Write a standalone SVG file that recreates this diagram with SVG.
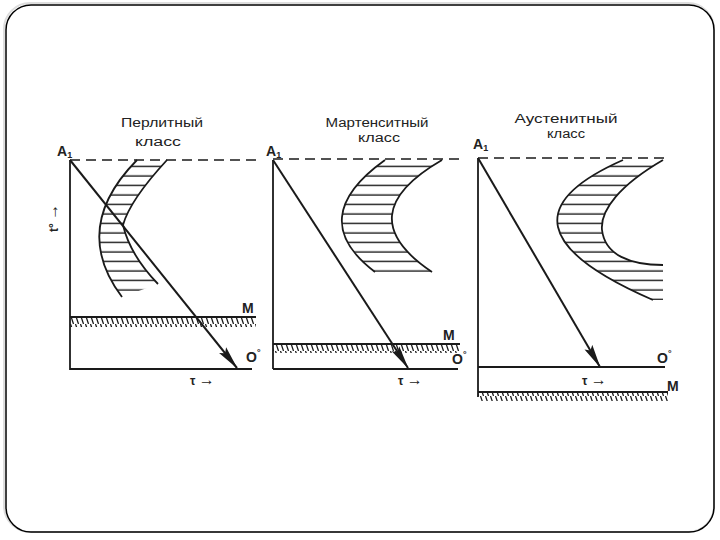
<svg xmlns="http://www.w3.org/2000/svg" width="720" height="540" viewBox="0 0 720 540">
<defs>
<style>
.ax{stroke:#1a1a1a;stroke-width:1.8;fill:none}
.dash{stroke:#1a1a1a;stroke-width:1.6;stroke-dasharray:10 6;fill:none}
.cur{stroke:#1a1a1a;stroke-width:1.8;fill:none}
.arr{stroke:#1a1a1a;stroke-width:2;fill:none;marker-end:url(#ah)}
.lbl{font-family:"Liberation Sans",Arial,sans-serif;font-weight:bold;fill:#222}
.ttl{font-family:"Liberation Sans",Arial,sans-serif;font-size:12px;fill:#222;text-anchor:middle}
.ra{font-size:16px;font-weight:bold}
</style>
<marker id="ah" viewBox="0 0 24 11" refX="23" refY="5.5" markerWidth="24" markerHeight="11" markerUnits="userSpaceOnUse" orient="auto">
<path d="M0,1 L24,5.5 L0,10 L4,5.5 Z" fill="#1a1a1a"/>
</marker>
<pattern id="ticks" patternUnits="userSpaceOnUse" width="5" height="9">
<path d="M0.5,0 L3.5,9" stroke="#1a1a1a" stroke-width="1.3"/>
</pattern>
<pattern id="hl" patternUnits="userSpaceOnUse" width="20" height="9.5">
<line x1="0" y1="5" x2="20" y2="5" stroke="#1a1a1a" stroke-width="1.4"/>
</pattern>
</defs>
<rect width="720" height="540" fill="#fff"/>
<rect x="4" y="3" width="710" height="529" rx="26" fill="none" stroke="#ddd" stroke-width="2"/>
<rect x="6" y="5" width="708" height="527" rx="25" fill="none" stroke="#000" stroke-width="1.5"/>

<g id="panel1">
<text class="ttl" x="162" y="127" textLength="82" lengthAdjust="spacingAndGlyphs">Перлитный</text>
<text class="ttl" x="158" y="146" textLength="46" lengthAdjust="spacingAndGlyphs">класс</text>
<text class="lbl" x="57" y="156" font-size="14">A<tspan font-size="9" dy="2">1</tspan></text>
<text class="lbl" x="58" y="232" font-size="12" transform="rotate(-90 58 232)">t° <tspan class="ra">→</tspan></text>
<path d="M137,160 Q70,228 122,297 L158,284 Q130,255 123,225 Q130,200 167,160 Z" fill="url(#hl)"/>
<path class="cur" d="M137,160 Q70,228 122,297"/>
<path class="cur" d="M167,160 Q130,200 123,225 Q130,255 158,284"/>
<line class="ax" x1="70" y1="160" x2="70" y2="370"/>
<line class="dash" x1="70" y1="160" x2="258" y2="160"/>
<line class="ax" x1="70" y1="317" x2="256" y2="317"/>
<rect x="70" y="318" width="186" height="9" fill="url(#ticks)"/>
<line class="ax" x1="70" y1="369" x2="252" y2="369"/>
<text class="lbl" x="242" y="313" font-size="14">M</text>
<text class="lbl" x="246" y="362" font-size="14">O<tspan font-size="9" dy="-7">°</tspan></text>
<text class="lbl" x="190" y="385" font-size="12">τ <tspan class="ra">→</tspan></text>
</g>

<g id="panel2">
<text class="ttl" x="377" y="127" textLength="103" lengthAdjust="spacingAndGlyphs">Мартенситный</text>
<text class="ttl" x="379" y="142" textLength="42" lengthAdjust="spacingAndGlyphs">класс</text>
<text class="lbl" x="266" y="156" font-size="14">A<tspan font-size="9" dy="2">1</tspan></text>
<path d="M385,160 Q304,218 375,272 L432,272 Q347,215 442,160 Z" fill="url(#hl)"/>
<path class="cur" d="M385,160 Q304,218 375,272"/>
<path class="cur" d="M442,160 Q347,215 432,272"/>
<line class="ax" x1="273" y1="160" x2="273" y2="369"/>
<line class="dash" x1="273" y1="159" x2="462" y2="159"/>
<line class="ax" x1="273" y1="344" x2="460" y2="344"/>
<rect x="273" y="345" width="187" height="8" fill="url(#ticks)"/>
<line class="ax" x1="273" y1="369" x2="458" y2="369"/>
<text class="lbl" x="443" y="340" font-size="14">M</text>
<text class="lbl" x="452" y="364" font-size="14">O<tspan font-size="9" dy="-7">°</tspan></text>
<text class="lbl" x="398" y="385" font-size="12">τ <tspan class="ra">→</tspan></text>
</g>

<g id="panel3">
<text class="ttl" x="566" y="123" textLength="103" lengthAdjust="spacingAndGlyphs">Аустенитный</text>
<text class="ttl" x="566" y="138" textLength="38" lengthAdjust="spacingAndGlyphs">класс</text>
<text class="lbl" x="473" y="149" font-size="14">A<tspan font-size="9" dy="2">1</tspan></text>
<path d="M623,160 Q478,224 653,300 L663,300 L663,265 C630,265 605,255 602,230 C600,210 620,185 663,160 Z" fill="url(#hl)"/>
<path class="cur" d="M623,160 Q478,224 653,300"/>
<path class="cur" d="M663,160 C620,185 600,210 602,230 C605,255 630,265 663,265"/>
<line class="ax" x1="478" y1="158" x2="478" y2="397"/>
<line class="dash" x1="478" y1="158" x2="664" y2="158"/>
<line class="ax" x1="478" y1="367" x2="665" y2="367"/>
<line class="ax" x1="478" y1="392" x2="668" y2="392"/>
<rect x="478" y="393" width="190" height="8" fill="url(#ticks)"/>
<text class="lbl" x="657" y="363" font-size="14">O<tspan font-size="9" dy="-7">°</tspan></text>
<text class="lbl" x="667" y="391" font-size="14">M</text>
<text class="lbl" x="582" y="385" font-size="12">τ <tspan class="ra">→</tspan></text>
</g>

<g id="connectors">
<line class="arr" x1="70" y1="160" x2="237" y2="368"/>
<line class="arr" x1="273" y1="160" x2="408" y2="368"/>
<line class="arr" x1="478" y1="158" x2="600" y2="367"/>
</g>
</svg>
